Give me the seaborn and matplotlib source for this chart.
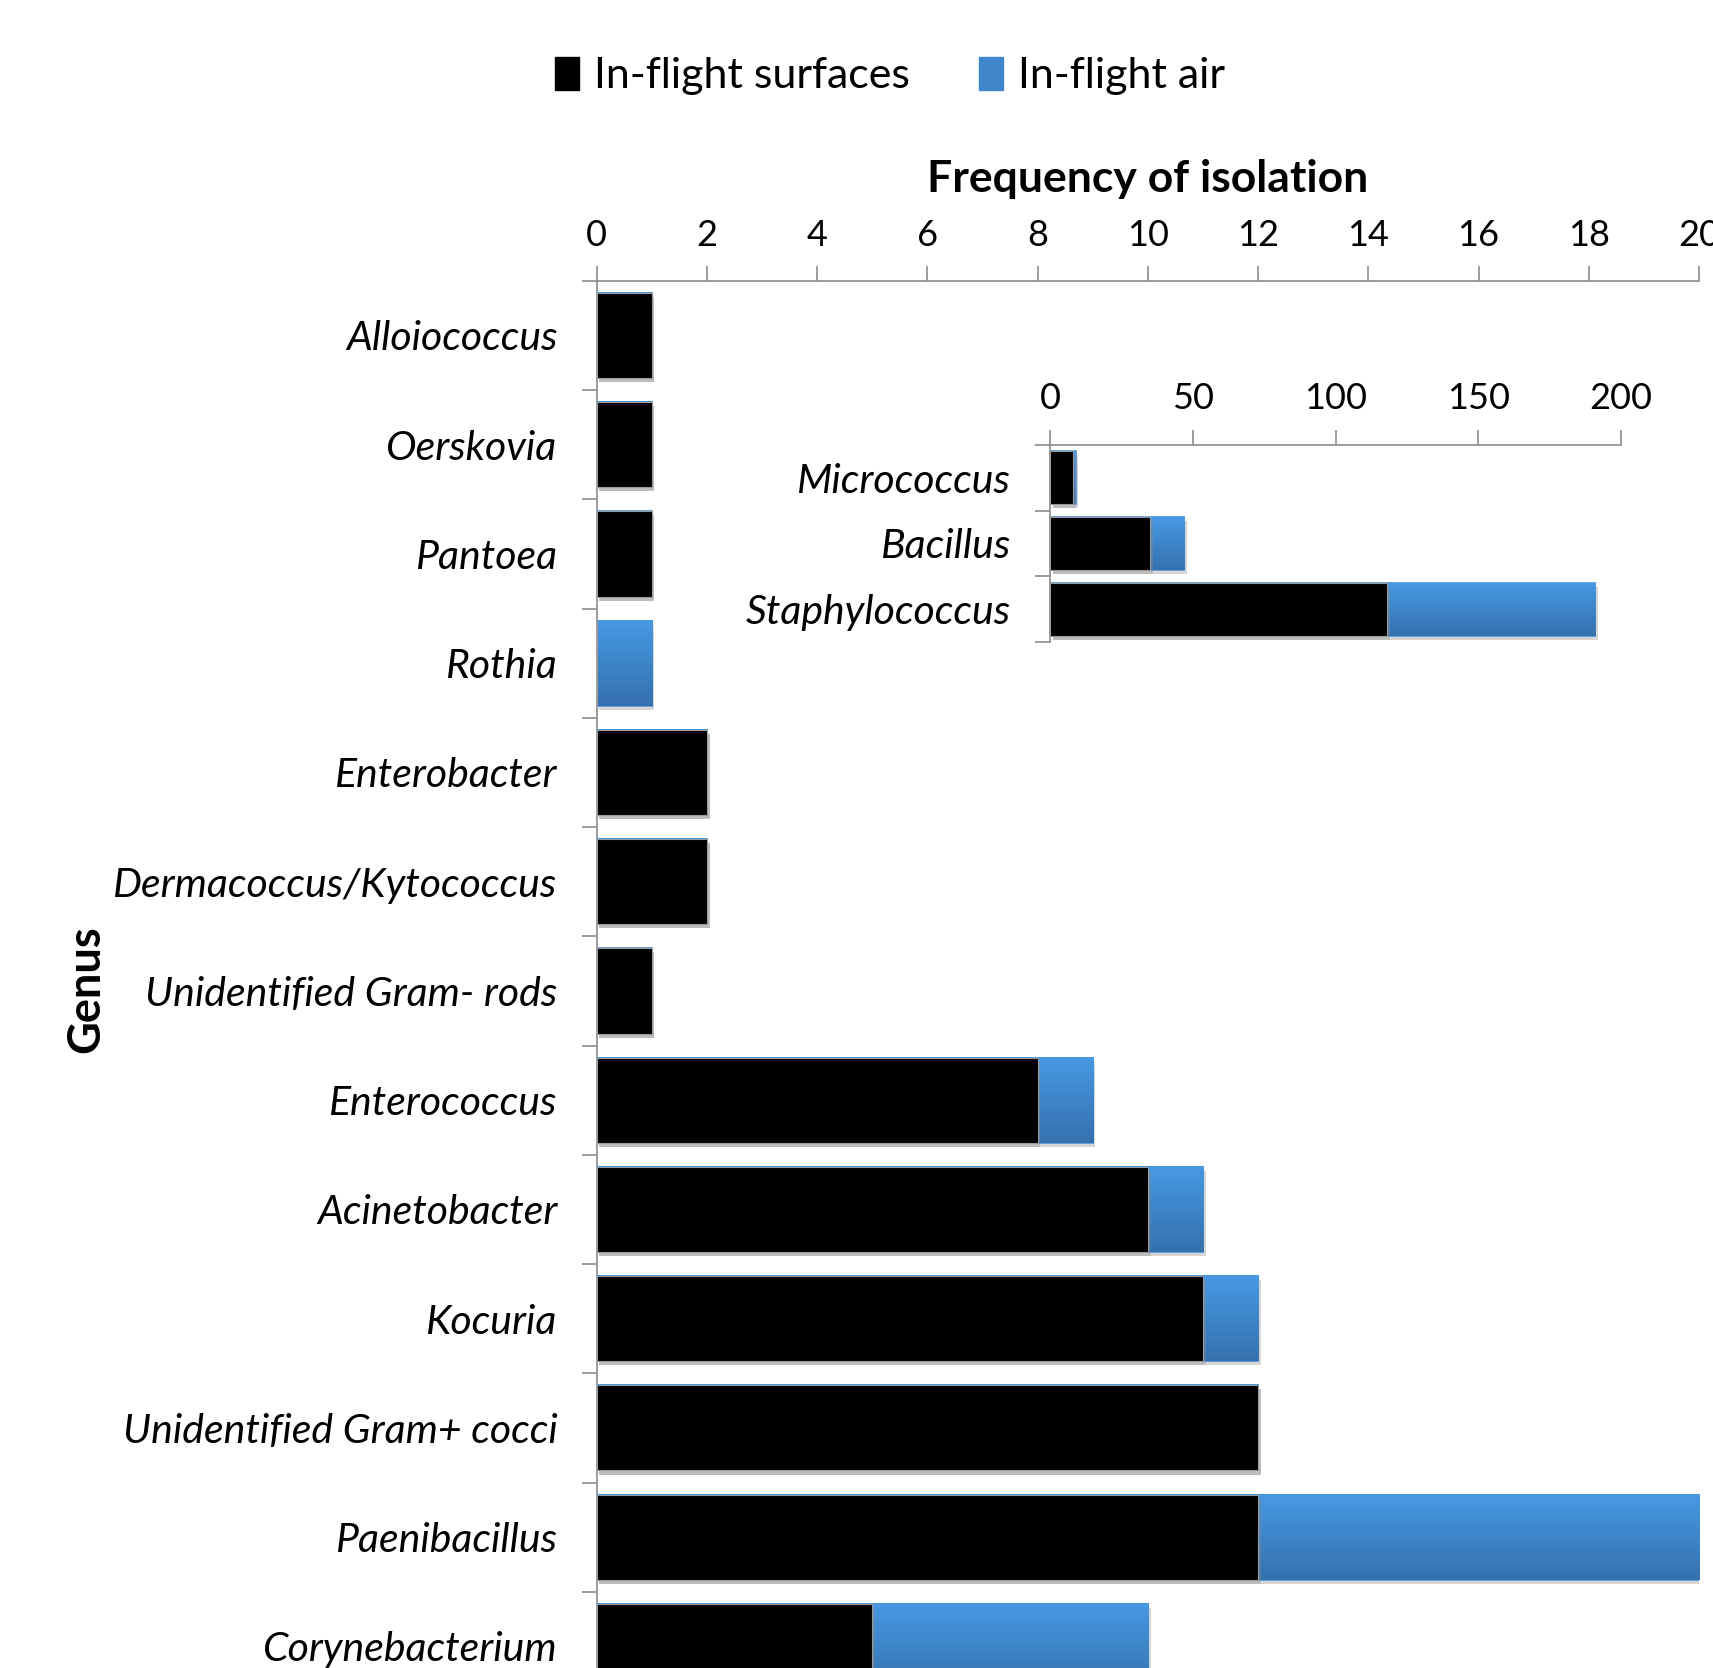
import numpy as np
import pandas as pd
import matplotlib
matplotlib.use("Agg")
import matplotlib.pyplot as plt
import seaborn as sns
from matplotlib.colors import LinearSegmentedColormap
from matplotlib.patches import Patch
from matplotlib.ticker import FixedLocator
import matplotlib.patheffects as pe

# ---------------- data ----------------
genera = ["Alloiococcus", "Oerskovia", "Pantoea", "Rothia", "Enterobacter",
          "Dermacoccus/Kytococcus", "Unidentified Gram- rods", "Enterococcus",
          "Acinetobacter", "Kocuria", "Unidentified Gram+ cocci",
          "Paenibacillus", "Corynebacterium"]
surfaces = [1, 1, 1, 0, 2, 2, 1, 8, 10, 11, 12, 12, 5]
air = [0, 0, 0, 1, 0, 0, 0, 1, 1, 1, 0, 8, 5]

inset_genera = ["Micrococcus", "Bacillus", "Staphylococcus"]
inset_surfaces = [8, 35, 118]
inset_air = [1, 12, 73]

main_ticks = [0, 2, 4, 6, 8, 10, 12, 14, 16, 18, 20]
inset_ticks = [0, 50, 100, 150, 200]

series_names = ["In-flight surfaces", "In-flight air"]

# ---------------- style ----------------
sns.set_theme(style="white")
plt.rcParams["font.family"] = ["Lato", "DejaVu Sans"]
plt.rcParams["text.color"] = "black"
plt.rcParams["axes.labelcolor"] = "black"
plt.rcParams["xtick.labelcolor"] = "black"
plt.rcParams["ytick.labelcolor"] = "black"

BLACK = "#000000"
BLUE_TOP = "#4799E3"
BLUE_BOT = "#3571AE"
BLUE_MID = "#3F86CB"
SPINE = "#8C8C8C"

W, H = 1713, 1668
fig = plt.figure(figsize=(W / 100, H / 100), dpi=100)


def make_df(names, s, a):
    return pd.DataFrame({"genus": names, "surfaces": s,
                         "total": [x + y for x, y in zip(s, a)]})


shadow = [pe.SimplePatchShadow(offset=(2, -3), shadow_rgbFace="0.55", alpha=0.35), pe.Normal()]


def draw_stacked(ax, df, bar_w):
    sns.barplot(data=df, x="total", y="genus", orient="h", color=BLUE_MID,
                width=bar_w, saturation=1, ax=ax, zorder=1, edgecolor="#4B93DB",
                linewidth=1.2)
    n_blue = len(ax.patches)
    sns.barplot(data=df, x="surfaces", y="genus", orient="h", color=BLACK,
                width=bar_w, saturation=1, ax=ax, zorder=3, edgecolor="#9A9A9A",
                linewidth=0.8)
    cmap = LinearSegmentedColormap.from_list("g", [BLUE_TOP, BLUE_BOT])
    grad = np.linspace(0, 1, 256).reshape(-1, 1)
    for i, p in enumerate(ax.patches):
        p.set_path_effects(shadow)
        if i < n_blue and p.get_width() > 0:
            x0, y0, w, h = p.get_x(), p.get_y(), p.get_width(), p.get_height()
            ax.imshow(grad, extent=(x0, x0 + w, y0 + h, y0), origin="upper",
                      aspect="auto", cmap=cmap, zorder=2, interpolation="bilinear")


def style_axes(ax, n, xmax, ticks, xfs, yfs, xpad, ypad, ticklen):
    ax.set_xlim(0, xmax)
    ax.set_ylim(n - 0.5, -0.5)
    ax.xaxis.tick_top()
    ax.xaxis.set_label_position("top")
    ax.set_xticks(ticks)
    ax.set_xticklabels([str(t) for t in ticks])
    ax.tick_params(axis="x", which="major", top=True, bottom=False, length=ticklen,
                   width=1.2, color=SPINE, labelcolor="black", labelsize=xfs,
                   pad=xpad, direction="out")
    ax.tick_params(axis="y", which="major", left=False, labelsize=yfs, pad=ypad,
                   labelcolor="black")
    ax.yaxis.set_minor_locator(FixedLocator(np.arange(-0.5, n, 1.0)))
    ax.tick_params(axis="y", which="minor", left=True, length=ticklen, width=1.2,
                   color=SPINE, direction="out")
    for lab in ax.get_yticklabels():
        lab.set_fontstyle("italic")
    for s in ["right", "bottom"]:
        ax.spines[s].set_visible(False)
    for s in ["top", "left"]:
        ax.spines[s].set_visible(True)
        ax.spines[s].set_color(SPINE)
        ax.spines[s].set_linewidth(1.2)
    ax.set_ylabel("")
    ax.grid(False)
    ax.set_facecolor("none")


# ---------------- main axes ----------------
ax_l, ax_r = 596.5 / W, 1699 / W
ax_top = 1 - 280.8 / H
ax_bot = 1 - 1701 / H
ax = fig.add_axes([ax_l, ax_bot, ax_r - ax_l, ax_top - ax_bot])
draw_stacked(ax, make_df(genera, surfaces, air), 0.78)
style_axes(ax, len(genera), 20, main_ticks, 26, 29.5, 10, 22, 11)
ax.set_xlabel("Frequency of isolation", fontsize=32, fontweight="bold", labelpad=19,
              color="black")

# ---------------- inset axes ----------------
in_l, in_r = 1050 / W, 1621 / W
in_top = 1 - 444.6 / H
in_bot = 1 - 642.4 / H
ax2 = fig.add_axes([in_l, in_bot, in_r - in_l, in_top - in_bot])
draw_stacked(ax2, make_df(inset_genera, inset_surfaces, inset_air), 0.8)
style_axes(ax2, len(inset_genera), 200, inset_ticks, 26, 29.5, 10, 22, 11)
ax2.set_xlabel("")

# ---------------- labels & legend ----------------
fig.text(86 / W, 1 - 989 / H, "Genus", rotation=90, fontsize=32.5, fontweight="bold",
         ha="center", va="center", color="black")

handles = [Patch(facecolor=BLACK, edgecolor=BLACK, label=series_names[0]),
           Patch(facecolor=BLUE_MID, edgecolor=BLUE_MID, label=series_names[1])]
leg = fig.legend(handles=handles, loc="center", bbox_to_anchor=(890 / W, 1 - 76 / H),
                 ncol=2, frameon=False, fontsize=31, handlelength=0.55, handleheight=0.8,
                 handletextpad=0.35, columnspacing=1.6)
for t in leg.get_texts():
    t.set_color("black")

fig.savefig("out.png", dpi=100, facecolor="white")
